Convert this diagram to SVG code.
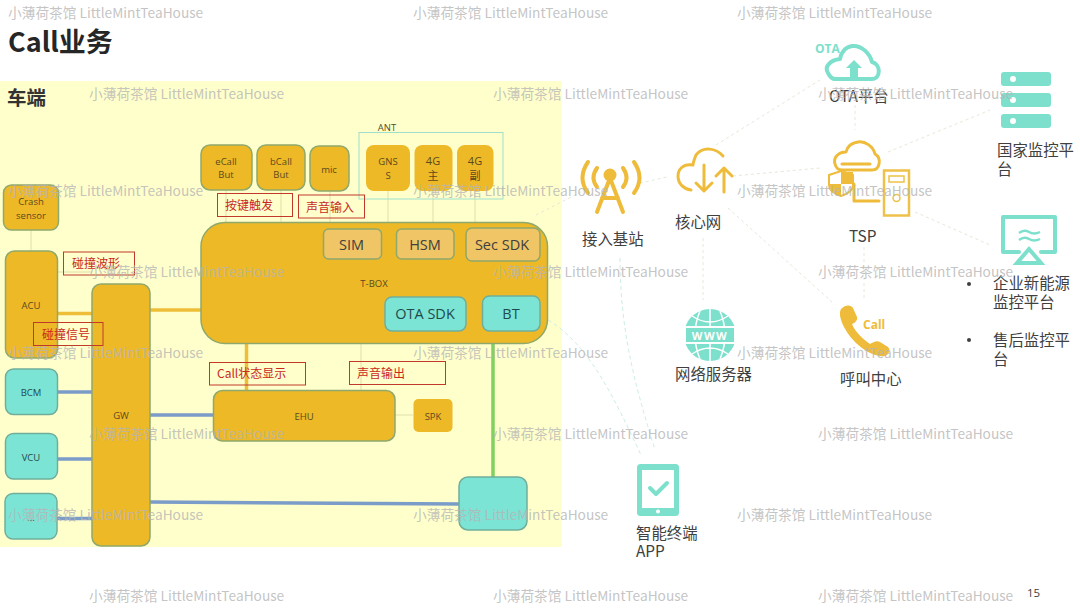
<svg xmlns="http://www.w3.org/2000/svg" width="1080" height="608" viewBox="0 0 1080 608">
<style>
text{font-family:"Noto Sans CJK SC","Noto Sans",sans-serif;fill:#404040}
.y{fill:#EEB926;stroke:#8FA86B;stroke-width:1.5}
.n{fill:#EEB926}
.t{fill:#7CE4D5;stroke:#6FAE9B;stroke-width:1.5}
.s{fill:#EFC566;stroke:#8FA86B;stroke-width:1.5}
.c{font-size:9.5px;text-anchor:middle;fill:#5A4A1E;font-family:"Open Sans","Noto Sans CJK SC",sans-serif}
.m{font-size:14.5px;text-anchor:middle;fill:#404040;font-family:"Open Sans","Noto Sans CJK SC",sans-serif}
.r{fill:none;stroke:#C0392B;stroke-width:1}
.rt{font-size:12px;fill:#C8281E;font-family:"Noto Sans CJK SC",sans-serif}
.l{font-size:15.4px;fill:#404040}
.wm{font-size:13.700px;fill:#B5B5B5;fill-opacity:.8;font-family:"Noto Sans CJK SC","Noto Sans",sans-serif}
.pale{stroke:#DDDFA8;stroke-width:1;fill:none}
.dash{stroke:#E4EAD6;stroke-width:1;stroke-dasharray:3 3;fill:none}
.dt{stroke:#CDEDE6;stroke-width:1;stroke-dasharray:4 3;fill:none}
.ic{fill:none;stroke:#EEBC3A;stroke-width:3;stroke-linecap:round;stroke-linejoin:round}
.it{fill:none;stroke:#7CE0CC;stroke-width:4;stroke-linecap:round;stroke-linejoin:round}
</style>
<rect width="1080" height="608" fill="#fff"/>
<text x="8" y="52" font-size="27" font-weight="700" style="fill:#262626">Call业务</text>
<rect id="panel" x="0" y="81" width="562" height="466" fill="#FFFFCC"/>
<text x="7" y="105" font-size="19.5" font-weight="700" style="fill:#333">车端</text>

<g id="connectors">
<path class="pale" d="M31 230V251M226 190V222M281 190V222M330 191V222M388 191V222M433 191V222M475 191V222M361 344V391M395 415H413M57 272H92"/>
<path d="M57 313.500H92M150 310H201M246.500 344V391" stroke="#EEBE38" stroke-width="3.500" fill="none"/>
<path d="M57 392H92M57 459H92M57 518.500H92M150 415H213.500M150 502L459 504" stroke="#7B9CC8" stroke-width="3.500" fill="none"/>
<path d="M493 344V477" stroke="#82CF62" stroke-width="3.500" fill="none"/>
<path class="dash" d="M536 215L585 190M640 183L667 177M716 145L820 80M733 176L820 168M855 105V130M888 152L990 110M915 212L990 245M703 238V300M728 208L832 302M864 247V300"/>
<path class="dt" d="M548 320C590 345 615 400 641 455M620 258C620 340 640 400 655 450"/>
</g>

<g id="crash"><rect class="y" x="3.500" y="185" width="55" height="45" rx="8"/><text class="c" x="31" y="205">Crash</text><text class="c" x="31" y="218.500">sensor</text></g>
<g id="acu"><rect class="y" x="5.500" y="251" width="52" height="107" rx="9"/><text class="c" x="31" y="309">ACU</text></g>
<g id="gw"><rect class="y" x="92" y="284" width="58" height="262" rx="9"/><text class="c" x="121" y="419">GW</text></g>
<g id="bcm"><rect class="t" x="5.500" y="369" width="52" height="45.500" rx="8"/><text class="c" x="31" y="396" style="fill:#1F4A4A">BCM</text></g>
<g id="vcu"><rect class="t" x="5.500" y="433.500" width="52" height="45.500" rx="8"/><text class="c" x="31" y="461" style="fill:#1F4A4A">VCU</text></g>
<g id="more"><rect class="t" x="5" y="493.500" width="52" height="45.500" rx="8"/><text class="c" x="31" y="521" style="fill:#1F4A4A">...</text></g>
<g id="ecall"><rect class="y" x="201" y="145" width="51" height="45" rx="9"/><text class="c" x="226" y="165">eCall</text><text class="c" x="226" y="178">But</text></g>
<g id="bcall"><rect class="y" x="257" y="145" width="48" height="45" rx="9"/><text class="c" x="281" y="165">bCall</text><text class="c" x="281" y="178">But</text></g>
<g id="mic"><rect class="y" x="310" y="146" width="39" height="45" rx="9"/><text class="c" x="329" y="173">mic</text></g>
<g id="ant"><rect x="359" y="132.500" width="144" height="66.500" fill="none" stroke="#9EE0CC" stroke-width="1"/><text class="c" x="387" y="131">ANT</text>
<rect class="n" x="366" y="145" width="44" height="46" rx="8"/><text class="c" x="388" y="165">GNS</text><text class="c" x="388" y="179">S</text>
<rect class="n" x="414.500" y="145" width="38" height="46" rx="8"/><text class="c" x="433" y="165" style="font-size:11px">4G</text><text class="c" x="433" y="180" style="font-size:11px">主</text>
<rect class="n" x="457" y="145" width="36.500" height="46" rx="8"/><text class="c" x="475" y="165" style="font-size:11px">4G</text><text class="c" x="475" y="180" style="font-size:11px">副</text></g>
<g id="tbox"><rect class="y" x="201" y="222.500" width="346.500" height="121" rx="24"/><text class="c" x="374" y="287">T-BOX</text></g>
<g id="sim"><rect class="s" x="323.500" y="229" width="58" height="30" rx="5"/><text class="m" x="351.500" y="250">SIM</text></g>
<g id="hsm"><rect class="s" x="396.500" y="229" width="57.500" height="30" rx="5"/><text class="m" x="425" y="250">HSM</text></g>
<g id="sec"><rect class="s" x="466" y="228" width="74" height="33" rx="6"/><text class="m" x="502" y="250">Sec SDK</text></g>
<g id="ota-sdk"><rect class="t" x="385" y="297" width="81" height="34" rx="7"/><text class="m" x="425" y="319" style="fill:#1F4A4A">OTA SDK</text></g>
<g id="bt"><rect class="t" x="482.500" y="296" width="57.500" height="35" rx="7"/><text class="m" x="511" y="319" style="fill:#1F4A4A">BT</text></g>
<g id="ehu"><rect class="y" x="213.500" y="390.500" width="181.500" height="50.500" rx="9"/><text class="c" x="304" y="420">EHU</text></g>
<g id="spk"><rect class="n" x="413.500" y="399" width="39" height="33" rx="5"/><text class="c" x="433" y="420">SPK</text></g>
<g id="cloud-box"><rect class="t" x="459" y="477" width="68" height="53" rx="9"/></g>

<g id="labels">
<rect class="r" x="217.500" y="193.500" width="75" height="23"/><text class="rt" x="225" y="210">按键触发</text>
<rect class="r" x="298.500" y="195" width="66" height="23"/><text class="rt" x="306" y="212">声音输入</text>
<rect class="r" x="63.500" y="252" width="71" height="23"/><text class="rt" x="72" y="268">碰撞波形</text>
<rect class="r" x="33.500" y="322.500" width="69.500" height="23"/><text class="rt" x="42" y="339">碰撞信号</text>
<rect class="r" x="209.500" y="362.500" width="96" height="22.500"/><text class="rt" x="217" y="378">Call状态显示</text>
<rect class="r" x="349.500" y="361.500" width="96" height="23"/><text class="rt" x="357" y="378">声音输出</text>
</g>

<g id="tower"><path d="M588 162Q577 178 588 193M634 162Q645 178 634 193M597 168Q590 178 597 187M623 168Q630 178 623 187" fill="none" stroke="#EEBC3A" stroke-width="4" stroke-linecap="round"/><circle cx="610" cy="175" r="6.500" fill="#EEBC3A"/><path d="M610 178L597 212M610 178L623 212M602 198H618" fill="none" stroke="#EEBC3A" stroke-width="4" stroke-linecap="round"/><text class="l" x="582" y="245">接入基站</text></g>
<g id="core"><path class="ic" d="M723 156C716 148 703 146 696 155C694 160 693 163 693 165C683 163 678 170 678 176C678 184 684 189 691 190"/><path class="ic" d="M704 165V191M696 183L704 191L712 183M724 192V168M716 176L724 168L732 176"/><text class="l" x="675" y="228">核心网</text></g>
<g id="ota-platform"><path class="it" d="M835 79H872C881 79 881 64 872 62C870 54 862 45 852 46C845 47 841 53 840 59C830 60 824 67 828 73C830 77 832 79 835 79Z"/><path d="M854 60L862 68H858V78H850V68H846Z" fill="#7CE0CC"/><text x="815" y="53" font-size="12" font-weight="700" style="fill:#7CE0CC;font-family:'Open Sans',sans-serif">OTA</text><text x="829" y="102" font-size="15.400">OTA平台</text></g>
<g id="tsp"><path class="ic" d="M842 170H872C880 170 882 158 875 154C873 146 865 141 858 142C850 143 847 148 846 152C838 152 833 158 835 164C836 168 839 170 842 170ZM842 164H870"/><path d="M829 175L841 171L853 175V185C853 190 847 194 841 196C835 194 829 190 829 185Z" fill="#fff" stroke="#EEBC3A" stroke-width="2"/><path d="M841 172H853V184H841ZM829 184H841V195C835 194 829 190 829 184Z" fill="#EEBC3A"/><path class="ic" d="M854 184V201H879"/><rect x="884" y="170.500" width="25" height="45" fill="none" stroke="#EEC24A" stroke-width="2.500"/><rect x="889" y="176" width="15" height="6" fill="none" stroke="#EEC24A" stroke-width="1.500"/><circle cx="896.500" cy="198" r="3.500" fill="none" stroke="#EEC24A" stroke-width="1.500"/><text x="849" y="242" font-size="15.400" font-family="Open Sans">TSP</text></g>
<g id="national"><rect x="1001" y="72" width="50" height="14" rx="3" fill="#7CE0CC"/><circle cx="1013" cy="79" r="3" fill="#fff"/><rect x="1001" y="93" width="50" height="14" rx="3" fill="#7CE0CC"/><circle cx="1013" cy="100" r="3" fill="#fff"/><rect x="1001" y="114" width="50" height="14" rx="3" fill="#7CE0CC"/><circle cx="1013" cy="121" r="3" fill="#fff"/><text class="l" x="997" y="156">国家监控平</text><text class="l" x="997" y="175">台</text></g>
<g id="monitor"><path class="it" d="M1019 252H1003V217H1055V252H1041"/><path d="M1019 233Q1024 229 1029 232T1040 232M1019 240Q1024 236 1029 239T1040 239" fill="none" stroke="#7CE0CC" stroke-width="2.500"/><path d="M1029 249L1041 263H1017Z" fill="none" stroke="#7CE0CC" stroke-width="4"/>
<circle cx="969" cy="284" r="2" fill="#404040"/><text class="l" x="993" y="289">企业新能源</text><text class="l" x="993" y="308">监控平台</text><circle cx="969" cy="340" r="2" fill="#404040"/><text class="l" x="993" y="346">售后监控平</text><text class="l" x="993" y="365">台</text></g>
<g id="web"><circle cx="710" cy="335" r="26" fill="#7CE0CC"/><path d="M684 335H736M710 309V361M692 316Q710 328 728 316M692 354Q710 342 728 354M700 311Q690 335 700 359M720 311Q730 335 720 359" fill="none" stroke="#fff" stroke-width="1.500"/><rect x="683" y="326" width="54" height="18" fill="#fff"/><rect x="686" y="328" width="48" height="14" fill="#7CE0CC"/><text x="710" y="339.500" font-size="11" font-weight="700" text-anchor="middle" letter-spacing="1.500" style="fill:#fff;font-family:'Open Sans',sans-serif">WWW</text><text class="l" x="675" y="380">网络服务器</text></g>
<g id="call"><path d="M841 309C846 304 851 305 853 308L857 317C858 320 855 323 852 324C855 332 864 340 870 344C873 342 877 340 880 342L888 347C891 350 889 354 885 356C872 358 852 344 843 325C840 318 839 313 841 309Z" fill="#EEBC3A"/><text x="863" y="329" font-size="12" font-weight="700" style="fill:#EEBC3A;font-family:'Open Sans',sans-serif">Call</text><text class="l" x="840" y="385">呼叫中心</text></g>
<g id="app"><rect x="637" y="464" width="42" height="52" rx="3.500" fill="#7CE0CC"/><rect x="642" y="470" width="32" height="38" fill="#fff"/><circle cx="658" cy="511.500" r="2" fill="#fff"/><path d="M650 488L656 494L667 483" fill="none" stroke="#7CE0CC" stroke-width="4" stroke-linecap="round" stroke-linejoin="round"/><text class="l" x="636" y="539">智能终端</text><text class="l" x="636" y="557">APP</text></g>
<text x="1027" y="597" font-size="11.500" style="font-family:'Open Sans',sans-serif">15</text>

<g id="watermarks">
<text class="wm" x="8" y="18">小薄荷茶馆 LittleMintTeaHouse</text><text class="wm" x="413" y="18">小薄荷茶馆 LittleMintTeaHouse</text><text class="wm" x="737" y="18">小薄荷茶馆 LittleMintTeaHouse</text>
<text class="wm" x="89" y="99">小薄荷茶馆 LittleMintTeaHouse</text><text class="wm" x="493" y="99">小薄荷茶馆 LittleMintTeaHouse</text><text class="wm" x="818" y="99">小薄荷茶馆 LittleMintTeaHouse</text>
<text class="wm" x="8" y="196">小薄荷茶馆 LittleMintTeaHouse</text><text class="wm" x="413" y="196">小薄荷茶馆 LittleMintTeaHouse</text><text class="wm" x="737" y="196">小薄荷茶馆 LittleMintTeaHouse</text>
<text class="wm" x="89" y="277">小薄荷茶馆 LittleMintTeaHouse</text><text class="wm" x="493" y="277">小薄荷茶馆 LittleMintTeaHouse</text><text class="wm" x="818" y="277">小薄荷茶馆 LittleMintTeaHouse</text>
<text class="wm" x="8" y="358">小薄荷茶馆 LittleMintTeaHouse</text><text class="wm" x="413" y="358">小薄荷茶馆 LittleMintTeaHouse</text><text class="wm" x="737" y="358">小薄荷茶馆 LittleMintTeaHouse</text>
<text class="wm" x="89" y="439">小薄荷茶馆 LittleMintTeaHouse</text><text class="wm" x="493" y="439">小薄荷茶馆 LittleMintTeaHouse</text><text class="wm" x="818" y="439">小薄荷茶馆 LittleMintTeaHouse</text>
<text class="wm" x="8" y="520">小薄荷茶馆 LittleMintTeaHouse</text><text class="wm" x="413" y="520">小薄荷茶馆 LittleMintTeaHouse</text><text class="wm" x="737" y="520">小薄荷茶馆 LittleMintTeaHouse</text>
<text class="wm" x="89" y="601">小薄荷茶馆 LittleMintTeaHouse</text><text class="wm" x="493" y="601">小薄荷茶馆 LittleMintTeaHouse</text><text class="wm" x="818" y="601">小薄荷茶馆 LittleMintTeaHouse</text>
</g>
</svg>
